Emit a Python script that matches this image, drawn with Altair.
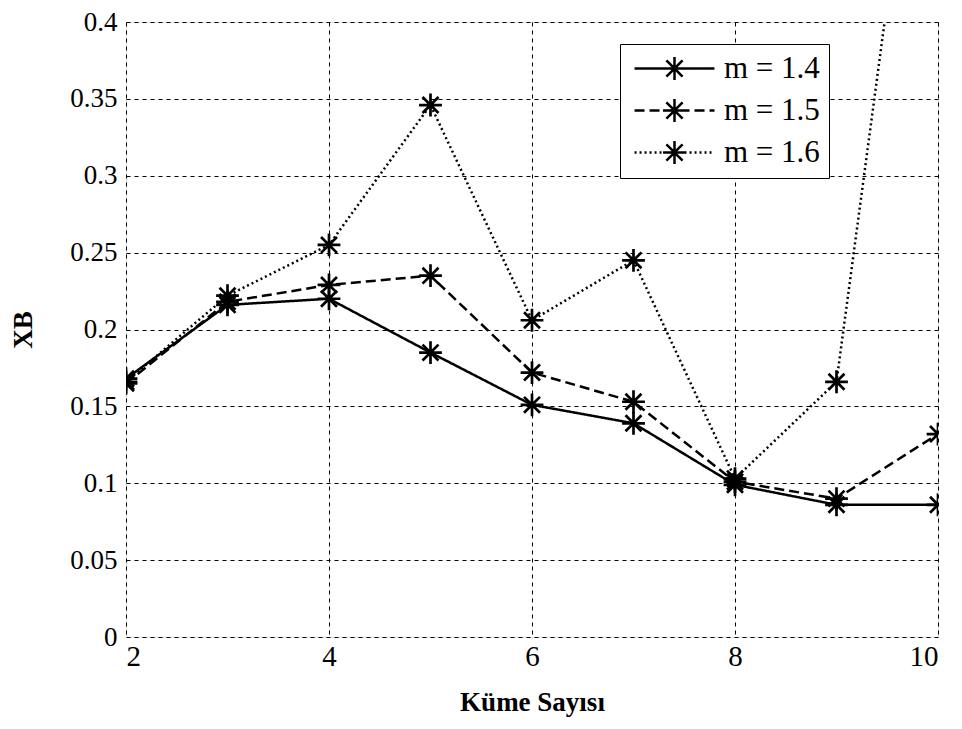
import altair as alt
import pandas as pd

clusters = [2, 3, 4, 5, 6, 7, 8, 9, 10]
series_names = ["m = 1.4", "m = 1.5", "m = 1.6"]
xb_m14 = [0.168, 0.216, 0.220, 0.185, 0.151, 0.139, 0.099, 0.086, 0.086]
xb_m15 = [0.165, 0.218, 0.229, 0.235, 0.172, 0.153, 0.101, 0.090, 0.132]
xb_m16 = [0.166, 0.222, 0.255, 0.346, 0.206, 0.245, 0.103, 0.166, 0.660]
y_ticks = [0, 0.05, 0.1, 0.15, 0.2, 0.25, 0.3, 0.35, 0.4]
x_ticks = [2, 4, 6, 8, 10]

rows = []
for name, vals in zip(series_names, [xb_m14, xb_m15, xb_m16]):
    for k, v in zip(clusters, vals):
        rows.append({"k": k, "xb": v, "m": name})
df = pd.DataFrame(rows)

FONT = "Liberation Serif"
STAR = "M-1,0L1,0M0,-1L0,1M-0.7,-0.7L0.7,0.7M-0.7,0.7L0.7,-0.7"


def seg_path(x0, y0, x1, y1, n):
    parts = []
    for i in range(n):
        a, b = i / n, (i + 1) / n
        parts.append("M%.3f,%.3fL%.3f,%.3f" % (x0 + (x1 - x0) * a, y0 + (y1 - y0) * a,
                                              x0 + (x1 - x0) * b, y0 + (y1 - y0) * b))
    return "".join(parts)


# legend glyph: a line with an asterisk in its middle (asterisk arms split in
# tiny sub-paths so that the dash pattern leaves them solid)
R = 0.85
D = R * 0.707
LEG = "M-2.96,0L2.96,0" + "".join([
    seg_path(-R, 0, R, 0, 16),
    seg_path(0, -R, 0, R, 16),
    seg_path(-D, -D, D, D, 16),
    seg_path(-D, D, D, -D, 16),
])

dash_scale = alt.Scale(domain=series_names, range=[[1, 0], [10, 5], [2, 3]])

axis_common = dict(labelFont=FONT, labelColor="black", titleFont=FONT,
                   titleColor="black", titleFontWeight="bold", titleFontSize=27,
                   tickSize=0, domain=False, gridDash=[4, 4], gridColor="black",
                   gridOpacity=1, gridWidth=1)

x = alt.X("k:Q", scale=alt.Scale(domain=[2, 10], nice=False),
          axis=alt.Axis(values=x_ticks, format="~g", title="Küme Sayısı",
                        labelFontSize=29, labelPadding=5, titlePadding=18,
                        **axis_common))
y = alt.Y("xb:Q", scale=alt.Scale(domain=[0, 0.4], nice=False),
          axis=alt.Axis(values=y_ticks, format="~g", title="XB",
                        labelFontSize=27, labelPadding=9, titlePadding=32,
                        **axis_common))

lines = alt.Chart(df).mark_line(color="black", strokeWidth=2.5, clip=True).encode(
    x=x, y=y,
    strokeDash=alt.StrokeDash(
        "m:N", scale=dash_scale,
        legend=alt.Legend(title=None, orient="none", legendX=494, legendY=22,
                          fillColor="white", strokeColor="black", padding=9,
                          rowPadding=9, symbolType=LEG, symbolSize=729,
                          symbolStrokeColor="black", symbolStrokeWidth=2.5,
                          symbolOffset=30, labelOffset=34,
                          labelFont=FONT, labelFontSize=31, labelColor="black",
                          labelLimit=300)),
)
points = alt.Chart(df).mark_point(shape=STAR, size=520, color="black", filled=False,
                                  strokeWidth=2.7, clip=True, opacity=1).encode(
    x="k:Q", y="xb:Q", detail="m:N")

chart = (lines + points).properties(
    width=812, height=615,
    padding={"left": 118, "top": 14, "right": 16, "bottom": 84},
    autosize=alt.AutoSizeParams(type="none"),
).configure_view(stroke="black", strokeWidth=2).configure(background="white")

chart.save("out.html", embed_options={"renderer": "svg", "actions": False})
